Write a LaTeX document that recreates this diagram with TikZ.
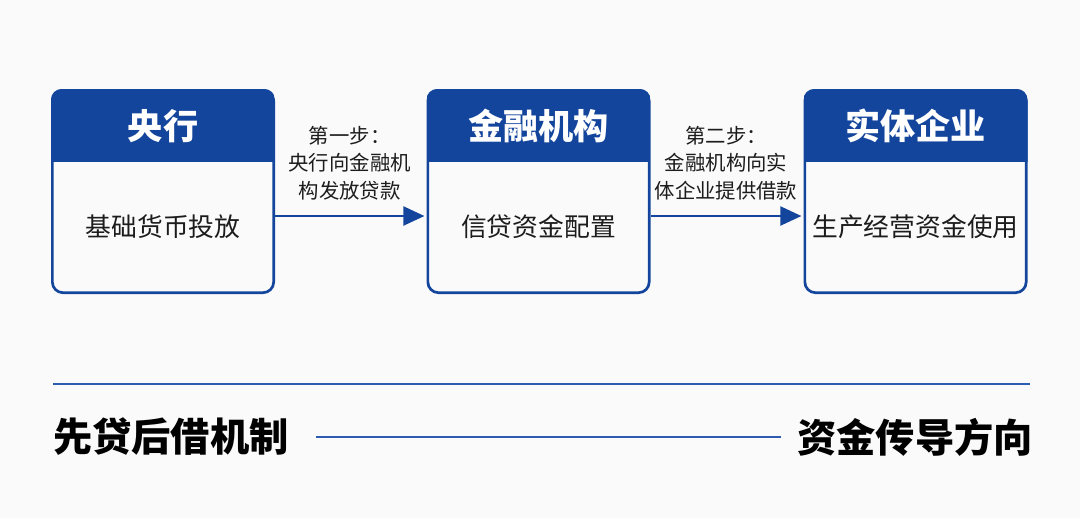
\documentclass[tikz,border=0pt]{standalone}
\usepackage{fontspec}
\newfontfamily\cjk{Noto Sans CJK SC}
\usetikzlibrary{arrows.meta,calc}
\definecolor{hdrblue}{HTML}{14459C}
\definecolor{rulblue}{HTML}{2B5CB0}
\definecolor{inkgray}{HTML}{1C1C1C}
\newcommand\stagebox[4]{%
    \node[stage] (#1) at (#2,191.5) {};
    \begin{scope}
        \clip[rounded corners=9] (#1.south west) rectangle (#1.north east);
        \fill[hdrblue] (#1.north west) rectangle ($(#1.north east)+(0,73)$);
    \end{scope}
    \node[stage,draw=hdrblue] at (#1) {};
    \node[title] (#1-t) at ($(#1.north)+(0,37)$) {#3};
    \node[body] (#1-b) at ($(#1.center)+(0,35)$) {#4};
}
\begin{document}
\begin{tikzpicture}[
    x=0.03cm,y=-0.03cm,
    every node/.style={font=\cjk,text=inkgray},
    stage/.style={rectangle,rounded corners=9,line width=2.3pt,
        minimum width=224*0.03cm-2.3pt,minimum height=205*0.03cm-2.3pt,inner sep=0pt},
    title/.style={font=\cjk\bfseries\fontsize{30}{33}\selectfont,text=white},
    body/.style={font=\cjk\fontsize{22}{26}\selectfont},
    steplabel/.style={font=\cjk\fontsize{17.4}{23.4}\selectfont,align=center},
    flow/.style={hdrblue,line width=2.5pt,-{Triangle[length=18pt,width=16pt]}},
    bottomtext/.style={font=\cjk\bfseries\fontsize{33.5}{37}\selectfont,text=black},
    ]
    \fill[black!2] (0,0) rectangle (1080,518);
    \useasboundingbox (0,0) rectangle (1080,518);
    \stagebox{pboc}{163}{央行}{基础货币投放}
    \stagebox{bank}{538.5}{金融机构}{信贷资金配置}
    \stagebox{firm}{915.5}{实体企业}{生产经营资金使用}
    \draw[flow] ($(pboc.east)+(0,24.5)$) -- ($(bank.west)+(-2,24.5)$)
        node[steplabel,midway,above=9pt] (s1) {第一步：\\央行向金融机\\构发放贷款};
    \draw[flow] ($(bank.east)+(0,24.5)$) -- ($(firm.west)+(-2,24.5)$)
        node[steplabel,midway,above=9pt] (s2) {第二步：\\金融机构向实\\体企业提供借款};
    \coordinate (rl) at (53,384);
    \coordinate (rr) at (1030,384);
    \draw[rulblue,line width=2.2pt] (rl) -- (rr);
    \node[bottomtext,anchor=west,inner sep=0pt] (mech) at (53,437) {先贷后借机制};
    \node[bottomtext,anchor=east,inner sep=0pt] (dir) at (1033,437) {资金传导方向};
    \draw[rulblue,line width=1.8pt,shorten <=23pt,shorten >=14pt] (mech) -- (dir);
\end{tikzpicture}
\end{document}
